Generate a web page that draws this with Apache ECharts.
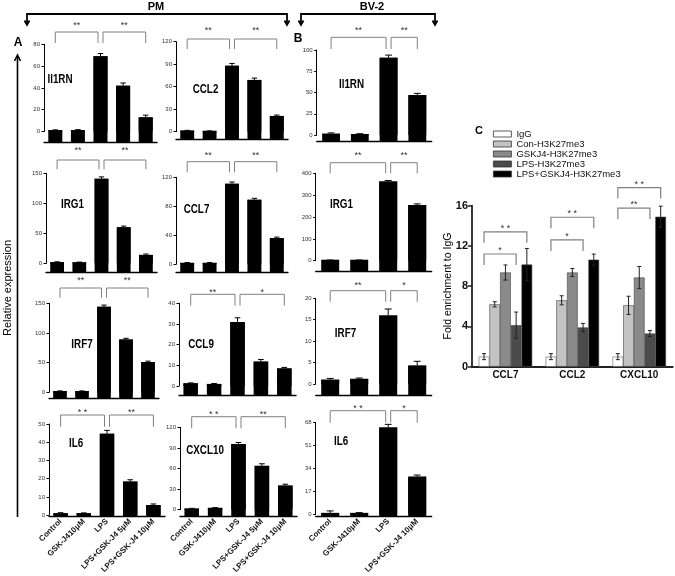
<!DOCTYPE html>
<html><head><meta charset="utf-8">
<script src="https://cdn.jsdelivr.net/npm/echarts@6/dist/echarts.min.js"></script>
<style>html,body{margin:0;padding:0;background:#fff}#c{width:675px;height:576px}</style>
</head><body><div id="c"></div>
<script>
// ---------- DATA ----------
const pmCats = ['Control', 'GSK-J410μM', 'LPS', 'LPS+GSK-J4 5μM', 'LPS+GSK-J4 10μM'];
const bvCats = ['Control', 'GSK-J410μM', 'LPS', 'LPS+GSK-J4 10μM'];

const pmIl1rn = [1.2, 1.3, 69, 42, 13];
const pmIl1rnErr = [0.3, 0.4, 2.5, 2.5, 2];
const pmIl1rnTicks = [0, 20, 40, 60, 80];
const pmIl1rnSig = [[0, 2, '**'], [2, 4, '**']];

const pmCcl2 = [1.5, 0.8, 88, 69, 21];
const pmCcl2Err = [0.3, 0.3, 3, 2.5, 1.2];
const pmCcl2Ticks = [0, 30, 60, 90, 120];
const pmCcl2Sig = [[0, 2, '**'], [2, 4, '**']];

const pmIrg1 = [2, 1.5, 141, 60, 14];
const pmIrg1Err = [0.5, 0.5, 3, 2, 1.5];
const pmIrg1Ticks = [0, 50, 100, 150];
const pmIrg1Sig = [[0, 2, '**'], [2, 4, '**']];

const pmCcl7 = [2, 2, 111, 89, 36];
const pmCcl7Err = [0.4, 0.4, 2.5, 2, 1.5];
const pmCcl7Ticks = [0, 40, 80, 120];
const pmCcl7Sig = [[0, 2, '**'], [2, 4, '**']];

const pmIrf7 = [2, 2, 144, 89, 51];
const pmIrf7Err = [0.4, 0.4, 3, 2, 1.5];
const pmIrf7Ticks = [0, 50, 100, 150];
const pmIrf7Sig = [[0, 2, '**'], [2, 4, '**']];

const pmCcl9 = [1.3, 1.0, 31, 11.8, 8.5];
const pmCcl9Err = [0.2, 0.2, 2, 1, 0.5];
const pmCcl9Ticks = [0, 10, 20, 30, 40];
const pmCcl9Sig = [[0, 2, '**'], [2, 4, '*']];

const pmIl6 = [1.0, 1.0, 44.7, 18.4, 5.5];
const pmIl6Err = [0.3, 0.2, 1.8, 1, 0.6];
const pmIl6Ticks = [0, 10, 20, 30, 40, 50];
const pmIl6Sig = [[0, 2, '* *'], [2, 4, '**']];

const pmCxcl10 = [1.5, 2.5, 95.8, 63.8, 35];
const pmCxcl10Err = [0.3, 0.4, 2, 3, 2];
const pmCxcl10Ticks = [0, 30, 60, 90, 120];
const pmCxcl10Sig = [[0, 2, '* *'], [2, 4, '**']];

const bvIl1rn = [1.5, 1, 91, 47];
const bvIl1rnErr = [1, 0.5, 3, 2];
const bvIl1rnTicks = [0, 25, 50, 75, 100];
const bvIl1rnSig = [[0, 2, '**'], [2, 3, '**']];

const bvIrg1 = [2, 2, 362, 255];
const bvIrg1Err = [1, 1, 5, 5];
const bvIrg1Ticks = [0, 100, 200, 300, 400];
const bvIrg1Sig = [[0, 2, '**'], [2, 3, '**']];

const bvIrf7 = [1.0, 1.2, 16, 4.3];
const bvIrf7Err = [0.3, 0.2, 1.5, 1];
const bvIrf7Ticks = [0, 5, 10, 15, 20];
const bvIrf7Sig = [[0, 2, '**'], [2, 3, '*']];

const bvIl6 = [1, 1, 64.2, 27.8];
const bvIl6Err = [1.5, 0.2, 2.3, 1.2];
const bvIl6Ticks = [0, 17, 34, 51, 68];
const bvIl6Sig = [[0, 2, '* *'], [2, 3, '*']];

const chipGenes = ['CCL7', 'CCL2', 'CXCL10'];
const chipGroups = ['IgG', 'Con-H3K27me3', 'GSKJ4-H3K27me3', 'LPS-H3K27me3', 'LPS+GSKJ4-H3K27me3'];
const chipIgG = [1.0, 1.0, 1.0];
const chipIgGErr = [0.3, 0.3, 0.3];
const chipCon = [6.2, 6.6, 6.1];
const chipConErr = [0.26, 0.45, 0.9];
const chipGsk = [9.36, 9.36, 8.86];
const chipGskErr = [0.75, 0.4, 1.1];
const chipLps = [4.13, 3.9, 3.3];
const chipLpsErr = [1.3, 0.4, 0.3];
const chipLpsGsk = [10.15, 10.64, 14.9];
const chipLpsGskErr = [1.6, 0.55, 1.05];
const chipTicks = [0, 4, 8, 12, 16];
// [gene index, from group, to group, bracket height (fold), stars]
const chipSig = [
  [0, 0, 4, 13.4, '* *'], [0, 0, 3, 11.2, '*'],
  [1, 0, 4, 14.85, '* *'], [1, 0, 3, 12.6, '*'],
  [2, 0, 4, 17.8, '* *'], [2, 0, 3, 15.75, '**']
];

// ---------- LAYOUT ----------
const FF = 'Liberation Sans, Arial, sans-serif';
const BAR_RATIO = 0.62;
const panels = [
  {name: 'Il1RN', cats: pmCats, v: pmIl1rn, e: pmIl1rnErr, t: pmIl1rnTicks, s: pmIl1rnSig, g: [44, 44.3, 113, 87.2], off: 10.5, lab: [60, 80], br: [32, 43, 24]},
  {name: 'CCL2', cats: pmCats, v: pmCcl2, e: pmCcl2Err, t: pmCcl2Ticks, s: pmCcl2Sig, g: [176, 41.7, 112, 90], off: 8, lab: [205.5, 90], br: [39, 49, 29]},
  {name: 'Il1RN', cats: bvCats, v: bvIl1rn, e: bvIl1rnErr, t: bvIl1rnTicks, s: bvIl1rnSig, g: [316.7, 50, 115, 85], off: 6.7, lab: [351.5, 85], br: [37.3, 49, 29]},
  {name: 'IRG1', cats: pmCats, v: pmIrg1, e: pmIrg1Err, t: pmIrg1Ticks, s: pmIrg1Sig, g: [46, 173.3, 111, 90], off: 8.7, lab: [72.5, 205], br: [160, 169.3, 148.3]},
  {name: 'CCL7', cats: pmCats, v: pmCcl7, e: pmCcl7Err, t: pmCcl7Ticks, s: pmCcl7Sig, g: [176, 177.3, 112, 87], off: 7.7, lab: [196.5, 210], br: [161.7, 172.3, 154]},
  {name: 'IRG1', cats: bvCats, v: bvIrg1, e: bvIrg1Err, t: bvIrg1Ticks, s: bvIrg1Sig, g: [315.7, 173.3, 116, 87.4], off: 11, lab: [341.5, 205], br: [162.7, 173.3, 154]},
  {name: 'IRF7', cats: pmCats, v: pmIrf7, e: pmIrf7Err, t: pmIrf7Ticks, s: pmIrf7Sig, g: [49, 303.3, 110, 89], off: 6, lab: [82, 345], br: [288, 297.7, 279]},
  {name: 'CCL9', cats: pmCats, v: pmCcl9, e: pmCcl9Err, t: pmCcl9Ticks, s: pmCcl9Sig, g: [179, 303.3, 117, 82.7], off: 9.7, lab: [201, 345], br: [294.3, 305.7, 291]},
  {name: 'IRF7', cats: bvCats, v: bvIrf7, e: bvIrf7Err, t: bvIrf7Ticks, s: bvIrf7Sig, g: [315.7, 298.3, 116, 85.7], off: 11, lab: [345.5, 333.3], br: [290.7, 301.7, 283.3]},
  {name: 'IL6', cats: pmCats, v: pmIl6, e: pmIl6Err, t: pmIl6Ticks, s: pmIl6Sig, g: [49, 424, 116, 99.3], off: 1.2, lab: [76, 443.3], br: [415, 426.7, 410.5], xl: true},
  {name: 'CXCL10', cats: pmCats, v: pmCxcl10, e: pmCxcl10Err, t: pmCxcl10Ticks, s: pmCxcl10Sig, g: [180, 427.3, 117, 87.7], off: 6.7, lab: [205, 451], br: [416.7, 428.3, 412.5], xl: true},
  {name: 'IL6', cats: bvCats, v: bvIl6, e: bvIl6Err, t: bvIl6Ticks, s: bvIl6Sig, g: [315.7, 422.3, 116, 97.7], off: 2, lab: [341, 441.7], br: [410.7, 422.7, 407], xl: true}
];

const option = {
  animation: false,
  textStyle: {fontFamily: FF},
  grid: [], xAxis: [], yAxis: [], series: [], graphic: []
};

panels.forEach((p, k) => {
  const max = p.t[p.t.length - 1];
  const interval = p.t[1] - p.t[0];
  option.grid.push({left: p.g[0], top: p.g[1], width: p.g[2], height: p.g[3]});
  option.xAxis.push({
    type: 'category', gridIndex: k, data: p.cats, offset: p.off,
    axisLine: {onZero: false, lineStyle: {color: '#000', width: 1.3}},
    axisTick: {show: false},
    axisLabel: {show: !!p.xl, rotate: 45, interval: 0, fontSize: 8, fontWeight: 'bold', color: '#111', margin: 4}
  });
  option.yAxis.push({
    type: 'value', gridIndex: k, min: 0, max: max, interval: interval,
    axisLine: {show: true, lineStyle: {color: '#000', width: 1}},
    axisTick: {show: true, length: 2.5, lineStyle: {color: '#000', width: 1}},
    splitLine: {show: false},
    axisLabel: {fontSize: 6, color: '#333', margin: 4}
  });
  // main bars
  option.series.push({
    type: 'bar', xAxisIndex: k, yAxisIndex: k, barWidth: (BAR_RATIO * 100) + '%',
    data: p.v, itemStyle: {color: '#000'}, silent: true
  });
  // bar foot (GraphPad-style offset x axis) + error bars
  option.series.push({
    type: 'custom', xAxisIndex: k, yAxisIndex: k, clip: false, silent: true, z: 5,
    data: p.v.map((v, i) => [i, v, p.e[i]]),
    renderItem: (params, api) => {
      const i = api.value(0), v = api.value(1), e = api.value(2);
      const z0 = api.coord([i, 0]);
      const a = api.coord([i, v]);
      const b = api.coord([i, v + e]);
      const catW = api.size([1, 0])[0];
      const bw = catW * BAR_RATIO;
      const cw = catW * 0.24;
      const top = Math.min(a[1], z0[1] - 1);
      return {type: 'group', children: [
        {type: 'rect', shape: {x: z0[0] - bw / 2, y: top, width: bw, height: z0[1] + p.off - top}, style: {fill: '#000'}},
        {type: 'line', shape: {x1: a[0], y1: a[1], x2: b[0], y2: b[1]}, style: {stroke: '#000', lineWidth: 1}},
        {type: 'line', shape: {x1: b[0] - cw / 2, y1: b[1], x2: b[0] + cw / 2, y2: b[1]}, style: {stroke: '#000', lineWidth: 1}}
      ]};
    }
  });
  option.series.push({
    type: 'custom', xAxisIndex: k, yAxisIndex: k, clip: false, silent: true, z: 5,
    data: p.s.map(b => [b[0], b[1]]),
    renderItem: (params, api) => {
      const f = api.value(0), t = api.value(1);
      let x1 = api.coord([f, 0])[0], x2 = api.coord([t, 0])[0];
      if (f === 2) x1 += 2.5;
      if (t === 2) x2 -= 2.5;
      const [ly, by, sy] = p.br;
      return {type: 'group', children: [
        {type: 'polyline', shape: {points: [[x1, by], [x1, ly], [x2, ly], [x2, by]]}, style: {stroke: '#808080', lineWidth: 1, fill: null}},
        {type: 'text', x: (x1 + x2) / 2, y: sy + 2, style: {text: p.s[params.dataIndex][2], fontSize: 9, fontFamily: FF, fill: '#333', align: 'center', verticalAlign: 'middle'}}
      ]};
    }
  });
  option.graphic.push({type: 'text', x: p.lab[0], y: p.lab[1], scaleX: 0.82,
    style: {text: p.name, font: 'bold 12px ' + FF, fill: '#000', align: 'center', verticalAlign: 'middle'}});
});

// ---------- PANEL C ----------
const cIdx = panels.length;
const chipVals = [chipIgG, chipCon, chipGsk, chipLps, chipLpsGsk];
const chipErrs = [chipIgGErr, chipConErr, chipGskErr, chipLpsErr, chipLpsGskErr];
const chipColors = ['#ffffff', '#c3c3c3', '#8a8a8a', '#4b4b4b', '#000000'];
option.grid.push({left: 472, top: 205.7, width: 200.7, height: 161});
option.xAxis.push({
  type: 'category', gridIndex: cIdx, data: chipGenes,
  axisLine: {lineStyle: {color: '#222', width: 1.8}}, axisTick: {show: false},
  axisLabel: {fontSize: 10, fontWeight: 'bold', color: '#111', margin: 4}
});
option.yAxis.push({
  type: 'value', gridIndex: cIdx, min: chipTicks[0], max: chipTicks[chipTicks.length - 1], interval: chipTicks[1] - chipTicks[0],
  axisLine: {show: true, lineStyle: {color: '#222', width: 1.8}},
  axisTick: {show: true, length: 4, lineStyle: {color: '#222', width: 1.5}},
  splitLine: {show: false},
  axisLabel: {fontSize: 11, fontWeight: 'bold', color: '#111', margin: 4}
});
chipGroups.forEach((name, s) => {
  option.series.push({
    type: 'bar', name: name, xAxisIndex: cIdx, yAxisIndex: cIdx, data: chipVals[s],
    barGap: '0%', barCategoryGap: '20%',
    itemStyle: {color: chipColors[s], borderColor: s === 0 ? '#666' : '#444', borderWidth: 0.6}
  });
});
const chipErrData = [];
chipGroups.forEach((n, s) => chipGenes.forEach((g, c) => chipErrData.push([c, chipVals[s][c], chipErrs[s][c], s])));
option.series.push({
  type: 'custom', xAxisIndex: cIdx, yAxisIndex: cIdx, clip: false, silent: true, z: 5,
  data: chipErrData,
  renderItem: (params, api) => {
    const c = api.value(0), v = api.value(1), e = api.value(2), s = api.value(3);
    const bw = api.size([1, 0])[0] * 0.8 / 5;
    const x = api.coord([c, v])[0] + (s - 2) * bw;
    const lo = api.coord([c, v - e])[1], hi = api.coord([c, v + e])[1];
    const st = {stroke: '#222', lineWidth: 1};
    return {type: 'group', children: [
      {type: 'line', shape: {x1: x, y1: lo, x2: x, y2: hi}, style: st},
      {type: 'line', shape: {x1: x - 2, y1: lo, x2: x + 2, y2: lo}, style: st},
      {type: 'line', shape: {x1: x - 2, y1: hi, x2: x + 2, y2: hi}, style: st}
    ]};
  }
});
option.series.push({
  type: 'custom', xAxisIndex: cIdx, yAxisIndex: cIdx, clip: false, silent: true, z: 5,
  data: chipSig.map(b => [b[0], b[1], b[2], b[3]]),
  renderItem: (params, api) => {
    const c = api.value(0), f = api.value(1), t = api.value(2), h = api.value(3);
    const bw = api.size([1, 0])[0] * 0.8 / 5;
    const cx = api.coord([c, h]);
    const x1 = cx[0] + (f - 2) * bw, x2 = cx[0] + (t - 2) * bw;
    const y = cx[1];
    return {type: 'group', children: [
      {type: 'polyline', shape: {points: [[x1, y + 11], [x1, y], [x2, y], [x2, y + 11]]}, style: {stroke: '#808080', lineWidth: 1.2, fill: null}},
      {type: 'text', x: (x1 + x2) / 2, y: y - 3.5, style: {text: chipSig[params.dataIndex][4], fontSize: 9, fontFamily: FF, fill: '#333', align: 'center', verticalAlign: 'middle'}}
    ]};
  }
});
option.legend = {
  data: chipGroups, orient: 'vertical', left: 493, top: 129, padding: 0,
  icon: 'rect', itemWidth: 18, itemHeight: 6, itemGap: 0,
  itemStyle: {borderColor: '#333', borderWidth: 0.8},
  textStyle: {fontSize: 9.5, lineHeight: 8, color: '#111', fontFamily: FF},
  selectedMode: false
};

// ---------- ANNOTATIONS ----------
const ln = {stroke: '#000', lineWidth: 1.8, fill: null};
option.graphic.push(
  {type: 'text', x: 156, y: 7, style: {text: 'PM', font: 'bold 11px ' + FF, fill: '#000', align: 'center', verticalAlign: 'middle'}},
  {type: 'polyline', shape: {points: [[27, 24], [27, 14], [287, 14], [287, 24]]}, style: ln},
  {type: 'polyline', shape: {points: [[24.5, 20.5], [27, 25], [29.5, 20.5]]}, style: ln},
  {type: 'polyline', shape: {points: [[284.5, 20.5], [287, 25], [289.5, 20.5]]}, style: ln},
  {type: 'text', x: 372, y: 7, style: {text: 'BV-2', font: 'bold 11px ' + FF, fill: '#000', align: 'center', verticalAlign: 'middle'}},
  {type: 'polyline', shape: {points: [[301, 24], [301, 14], [435, 14], [435, 24]]}, style: ln},
  {type: 'polyline', shape: {points: [[298.5, 20.5], [301, 25], [303.5, 20.5]]}, style: ln},
  {type: 'polyline', shape: {points: [[432.5, 20.5], [435, 25], [437.5, 20.5]]}, style: ln},
  {type: 'text', x: 18, y: 43, style: {text: 'A', font: 'bold 12px ' + FF, fill: '#000', align: 'center', verticalAlign: 'middle'}},
  {type: 'text', x: 298, y: 39, style: {text: 'B', font: 'bold 12px ' + FF, fill: '#000', align: 'center', verticalAlign: 'middle'}},
  {type: 'text', x: 479, y: 131, style: {text: 'C', font: 'bold 11px ' + FF, fill: '#000', align: 'center', verticalAlign: 'middle'}},
  {type: 'line', shape: {x1: 17.5, y1: 517, x2: 17.5, y2: 56}, style: {stroke: '#000', lineWidth: 1.6}},
  {type: 'polyline', shape: {points: [[14.5, 61], [17.5, 55], [20.5, 61]]}, style: {stroke: '#000', lineWidth: 1.6, fill: null}},
  {type: 'text', x: 8, y: 288, rotation: Math.PI / 2, style: {text: 'Relative expression', font: '11px ' + FF, fill: '#000', align: 'center', verticalAlign: 'middle'}},
  {type: 'text', x: 448.5, y: 286, rotation: Math.PI / 2, style: {text: 'Fold enrichment to IgG', font: '10.5px ' + FF, fill: '#000', align: 'center', verticalAlign: 'middle'}}
);

const chart = echarts.init(document.getElementById('c'), null, {renderer: 'canvas'});
chart.setOption(option);
</script>
</body></html>
